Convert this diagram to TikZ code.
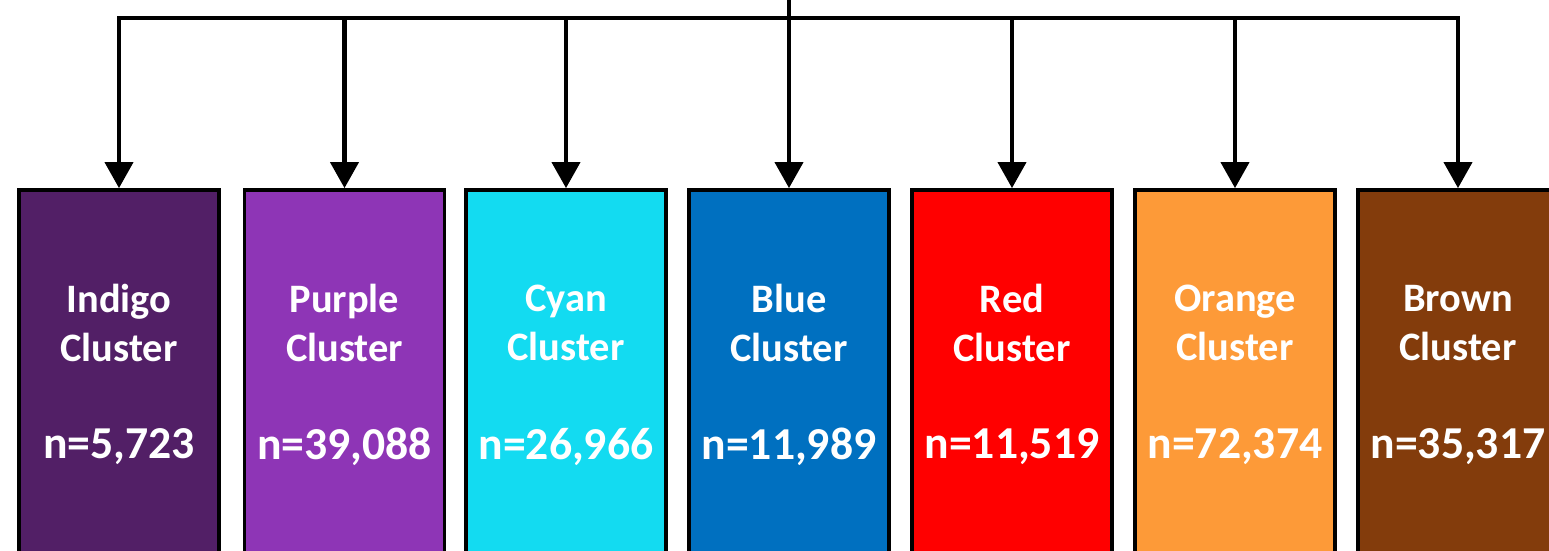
\documentclass[tikz,border=0pt]{standalone}
\usepackage{fontspec}
\setmainfont{Carlito}
\usetikzlibrary{arrows.meta,positioning}

\definecolor{indigoc}{HTML}{521F66}
\definecolor{purplec}{HTML}{8E35B6}
\definecolor{cyanc}{HTML}{13DBF1}
\definecolor{bluec}{HTML}{0070C0}
\definecolor{redc}{HTML}{FF0000}
\definecolor{orangec}{HTML}{FD9A38}
\definecolor{brownc}{HTML}{833C0C}

\begin{document}
\begin{tikzpicture}[x=0.02cm, y=-0.02cm, line join=miter,
  box/.style={draw=black, line width=2.2pt, minimum width=4cm, minimum height=10cm, inner sep=0pt},
  cname/.style={text=white, align=center, font=\fontsize{23}{28}\selectfont\bfseries},
  nval/.style={text=white, font=\fontsize{26}{31}\selectfont\bfseries},
  wire/.style={line width=2.3pt},
  link/.style={line width=2.3pt, -{Triangle[width=0.56cm, length=0.52cm]}}]

\useasboundingbox (0,0) rectangle (1549,551);
\clip (0,0) rectangle (1549,551);

% cluster boxes
\node (indigo) at (119, 440) [box, fill=indigoc] {};
\node (purple) at (344.5, 440) [box, fill=purplec] {};
\node (cyan) at (566, 440) [box, fill=cyanc] {};
\node (blue) at (789, 440) [box, fill=bluec] {};
\node (red) at (1012, 440) [box, fill=redc] {};
\node (orange) at (1235, 440) [box, fill=orangec] {};
\node (brown) at (1458, 440) [box, fill=brownc] {};

% labels
\node (indigo_n) at (119, 323) [cname] {Indigo\\Cluster};
\node (purple_n) at (344.5, 323) [cname] {Purple\\Cluster};
\node (cyan_n) at (566, 323) [cname] {Cyan\\Cluster};
\node (blue_n) at (789, 323) [cname] {Blue\\Cluster};
\node (red_n) at (1012, 323) [cname] {Red\\Cluster};
\node (orange_n) at (1235, 323) [cname] {Orange\\Cluster};
\node (brown_n) at (1458, 323) [cname] {Brown\\Cluster};

\node (indigo_v) at (119, 447) [nval] {n=5,723};
\node (purple_v) at (344.5, 447) [nval] {n=39,088};
\node (cyan_v) at (566, 447) [nval] {n=26,966};
\node (blue_v) at (789, 447) [nval] {n=11,989};
\node (red_v) at (1012, 447) [nval] {n=11,519};
\node (orange_v) at (1235, 447) [nval] {n=72,374};
\node (brown_v) at (1458, 447) [nval] {n=35,317};

% connectors
\coordinate (stem) at (789, -5);
\coordinate (bus) at (789, 18);
\draw[wire] (stem) -- (bus);

\draw[link] (bus) -| (indigo);
\draw[link] (bus) -| (purple);
\draw[link] (bus) -| (cyan);
\draw[link] (bus) -- (blue);
\draw[link] (bus) -| (red);
\draw[link] (bus) -| (orange);
\draw[link] (bus) -| (brown);

\end{tikzpicture}
\end{document}
